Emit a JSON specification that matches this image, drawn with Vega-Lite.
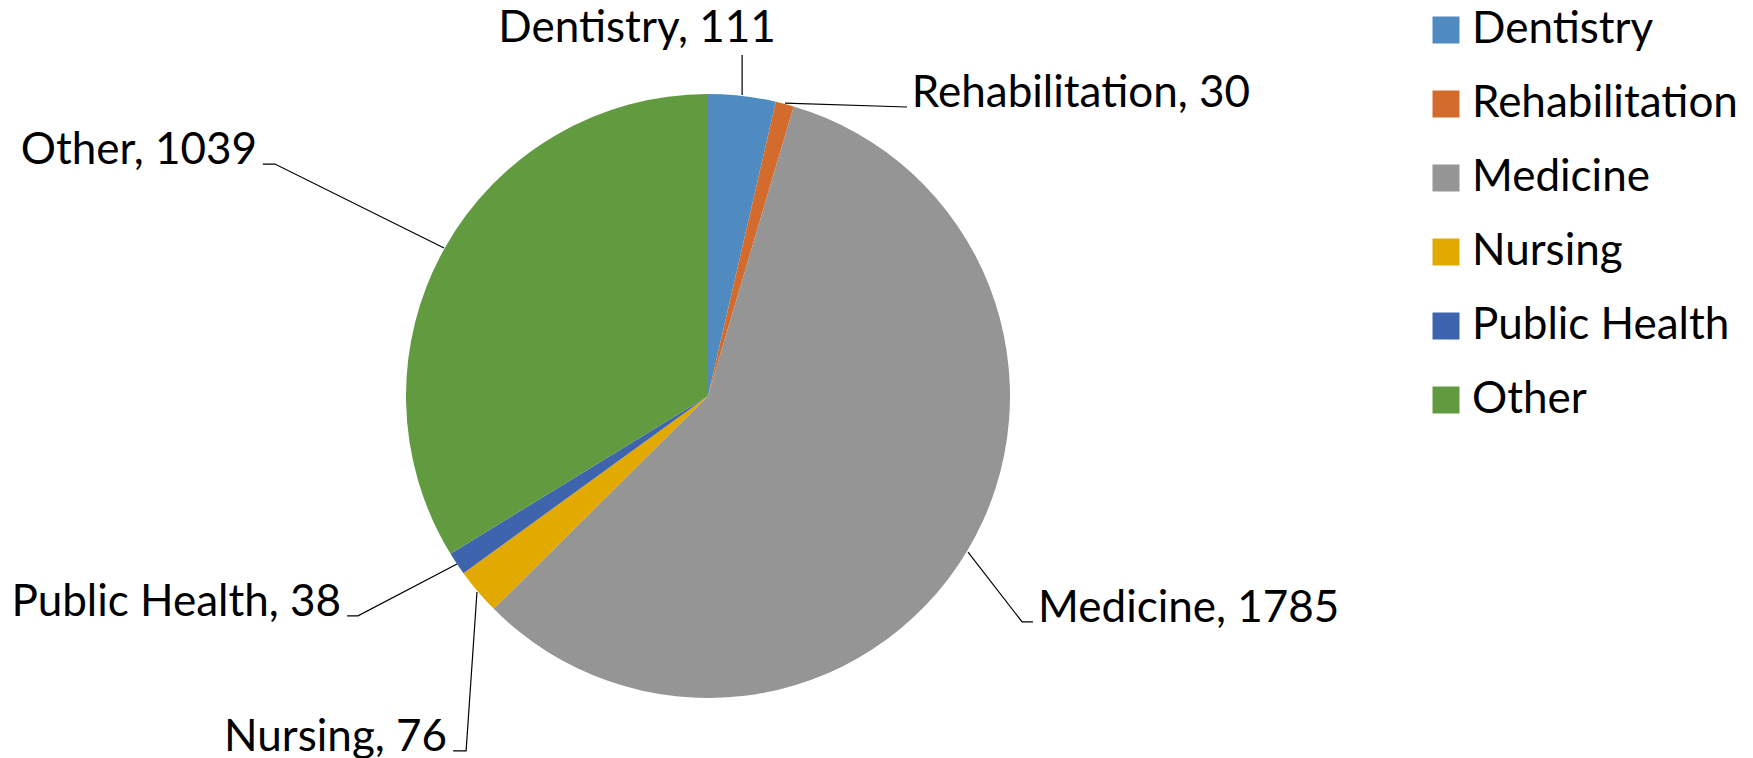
{
  "$schema": "https://vega.github.io/schema/vega-lite/v6.json",
  "width": 1753,
  "height": 758,
  "padding": 0,
  "autosize": {"type": "none"},
  "background": "white",
  "config": {"view": {"stroke": null}, "font": "Lato"},
  "datasets": {
    "slices": [
      {"category": "Dentistry", "count": 111, "ord": 1},
      {"category": "Rehabilitation", "count": 30, "ord": 2},
      {"category": "Medicine", "count": 1785, "ord": 3},
      {"category": "Nursing", "count": 76, "ord": 4},
      {"category": "Public Health", "count": 38, "ord": 5},
      {"category": "Other", "count": 1039, "ord": 6}
    ],
    "labels": [
      {"category": "Dentistry", "count": 111, "lx": -0.235, "ly": 1.172},
      {"category": "Rehabilitation", "count": 30, "lx": 0.675, "ly": 0.957},
      {"category": "Medicine", "count": 1785, "lx": 1.093, "ly": -0.748},
      {"category": "Nursing", "count": 76, "lx": -0.864, "ly": -1.175},
      {"category": "Public Health", "count": 38, "lx": -1.215, "ly": -0.728},
      {"category": "Other", "count": 1039, "lx": -1.493, "ly": 0.768}
    ],
    "leaders": [
      {"category": "Dentistry", "seq": 1, "lx": 0.113, "ly": 1.129},
      {"category": "Dentistry", "seq": 2, "lx": 0.113, "ly": 0.997},
      {"category": "Rehabilitation", "seq": 1, "lx": 0.255, "ly": 0.970},
      {"category": "Rehabilitation", "seq": 2, "lx": 0.659, "ly": 0.957},
      {"category": "Medicine", "seq": 1, "lx": 0.861, "ly": -0.517},
      {"category": "Medicine", "seq": 2, "lx": 1.040, "ly": -0.748},
      {"category": "Medicine", "seq": 3, "lx": 1.076, "ly": -0.748},
      {"category": "Nursing", "seq": 1, "lx": -0.765, "ly": -0.649},
      {"category": "Nursing", "seq": 2, "lx": -0.801, "ly": -1.175},
      {"category": "Nursing", "seq": 3, "lx": -0.844, "ly": -1.175},
      {"category": "Public Health", "seq": 1, "lx": -0.831, "ly": -0.556},
      {"category": "Public Health", "seq": 2, "lx": -1.159, "ly": -0.728},
      {"category": "Public Health", "seq": 3, "lx": -1.195, "ly": -0.728},
      {"category": "Other", "seq": 1, "lx": -0.874, "ly": 0.490},
      {"category": "Other", "seq": 2, "lx": -1.434, "ly": 0.768},
      {"category": "Other", "seq": 3, "lx": -1.474, "ly": 0.768}
    ]
  },
  "layer": [
    {
      "data": {"name": "slices"},
      "mark": {"type": "arc", "outerRadius": 302, "stroke": null},
      "encoding": {
        "theta": {"field": "count", "type": "quantitative", "stack": true},
        "order": {"field": "ord", "type": "quantitative"},
        "x": {"datum": 0, "type": "quantitative", "scale": {"domain": [-2.3444, 3.4603], "nice": false, "zero": false}, "axis": null},
        "y": {"datum": 0, "type": "quantitative", "scale": {"domain": [-1.1987, 1.3113], "nice": false, "zero": false}, "axis": null},
        "color": {
          "field": "category",
          "type": "nominal",
          "scale": {
            "domain": ["Dentistry", "Rehabilitation", "Medicine", "Nursing", "Public Health", "Other"],
            "range": ["#4F8BC1", "#D26B2B", "#959595", "#E2A900", "#3E64AE", "#619A3F"]
          },
          "legend": {
            "orient": "none",
            "legendX": 1424,
            "legendY": 8,
            "title": null,
            "symbolType": "square",
            "symbolSize": 729,
            "symbolStrokeWidth": 0,
            "labelFontSize": 44,
            "labelColor": "black",
            "labelFont": "Lato",
            "labelOffset": 4,
            "rowPadding": 30,
            "padding": 0,
            "labelLimit": 400
          }
        }
      }
    },
    {
      "data": {"name": "leaders"},
      "mark": {"type": "line", "color": "black", "strokeWidth": 1.2},
      "encoding": {
        "x": {"field": "lx", "type": "quantitative"},
        "y": {"field": "ly", "type": "quantitative"},
        "detail": {"field": "category"},
        "order": {"field": "seq", "type": "quantitative"}
      }
    },
    {
      "data": {"name": "labels"},
      "transform": [{"filter": {"field": "category", "oneOf": ["Dentistry"]}}],
      "mark": {"type": "text", "align": "center", "baseline": "alphabetic", "fontSize": 44, "color": "black"},
      "encoding": {
        "x": {"field": "lx", "type": "quantitative"},
        "y": {"field": "ly", "type": "quantitative"},
        "text": {"value": "Dentistry, 111"}
      }
    },
    {
      "data": {"name": "labels"},
      "transform": [{"filter": {"field": "category", "oneOf": ["Rehabilitation", "Medicine"]}}, {"calculate": "datum.category + ', ' + datum.count", "as": "txt"}],
      "mark": {"type": "text", "align": "left", "baseline": "alphabetic", "fontSize": 44, "color": "black"},
      "encoding": {
        "x": {"field": "lx", "type": "quantitative"},
        "y": {"field": "ly", "type": "quantitative"},
        "text": {"field": "txt"}
      }
    },
    {
      "data": {"name": "labels"},
      "transform": [{"filter": {"field": "category", "oneOf": ["Nursing", "Public Health", "Other"]}}, {"calculate": "datum.category + ', ' + datum.count", "as": "txt"}],
      "mark": {"type": "text", "align": "right", "baseline": "alphabetic", "fontSize": 44, "color": "black"},
      "encoding": {
        "x": {"field": "lx", "type": "quantitative"},
        "y": {"field": "ly", "type": "quantitative"},
        "text": {"field": "txt"}
      }
    }
  ]
}
